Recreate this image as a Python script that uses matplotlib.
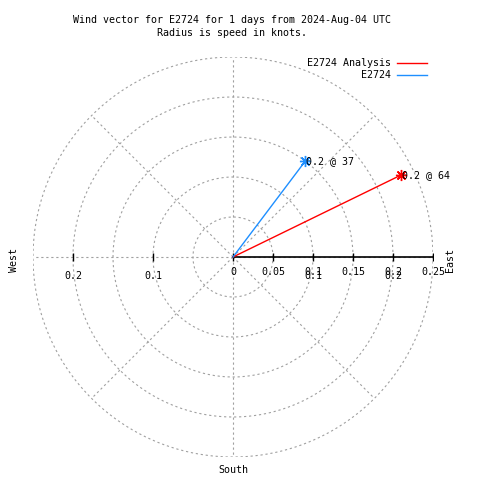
import matplotlib.pyplot as plt
import numpy as np

# data
series_names = ["E2724 Analysis", "E2724"]
series_colors = ["#ff0000", "#1e8fff"]
speeds = [0.234, 0.150]          # knots
directions = [64, 37]            # degrees from north
point_labels = ["0.2 @ 64", "0.2 @ 37"]
rings = [0.05, 0.10, 0.15, 0.20, 0.25]
right_ticks = [0, 0.05, 0.1, 0.15, 0.2, 0.25]
right_labels = ["0", "0.05", "0.1", "0.15", "0.2", "0.25"]
left_ticks = [-0.2, -0.1]
left_labels = ["0.2", "0.1"]
rmax = 0.25

font = "DejaVu Sans Mono"
fs = 7.2
grid_kw = dict(color="#a0a0a0", lw=0.8, ls=(0, (2, 2.5)))

fig = plt.figure(figsize=(4.8, 4.8), dpi=100)
ax = fig.add_axes([33 / 480, 23 / 480, 400 / 480, 400 / 480])
ax.set_xlim(-rmax, rmax)
ax.set_ylim(-rmax, rmax)
ax.set_aspect("equal")
ax.axis("off")

# polar grid
t = np.linspace(0, 2 * np.pi, 361)
for r in rings:
    ax.plot(r * np.cos(t), r * np.sin(t), **grid_kw)
for a in range(0, 360, 45):
    ang = np.radians(a)
    ax.plot([0, rmax * np.cos(ang)], [0, rmax * np.sin(ang)], **grid_kw)

# axis on the east side
ax.plot([0, rmax], [0, 0], color="black", lw=1.2)
ax.plot(right_ticks, [0] * len(right_ticks), ls="none", marker="|",
        ms=6, mew=1, color="black")
ax.plot(left_ticks, [0] * len(left_ticks), ls="none", marker="|",
        ms=6, mew=1, color="black")
for v, lab in zip(right_ticks, right_labels):
    ax.annotate(lab, (v, 0), xytext=(0, -15), textcoords="offset pixels",
                ha="center", va="center", fontsize=fs, family=font)
for v, lab in zip(left_ticks, left_labels):
    ax.annotate(lab, (v, 0), xytext=(0, -19), textcoords="offset pixels",
                ha="center", va="center", fontsize=fs, family=font)
# gnuplot draws the 0.1 / 0.2 ring labels again just below
for v, lab in zip([0.1, 0.2], ["0.1", "0.2"]):
    ax.annotate(lab, (v, 0), xytext=(0, -19), textcoords="offset pixels",
                ha="center", va="center", fontsize=fs, family=font)

# vectors
for s, d, c, lab in zip(speeds, directions, series_colors, point_labels):
    x = s * np.sin(np.radians(d))
    y = s * np.cos(np.radians(d))
    ax.plot([0, x], [0, y], color=c, lw=1)
    ax.plot([x], [y], ls="none", marker=(8, 2, 0), ms=8, mew=1, color=c)
    ax.annotate(lab, (x, y), xytext=(1, 0), textcoords="offset pixels",
                ha="left", va="center", fontsize=fs, family=font)

# compass labels
fig.text(14 / 480, 1 - 260 / 480, "West", rotation=90, ha="center",
         va="center", fontsize=fs, family=font)
fig.text(450 / 480, 1 - 260 / 480, "East", rotation=90, ha="center",
         va="center", fontsize=fs, family=font)
fig.text(233 / 480, 1 - 470 / 480, "South", ha="center", va="center",
         fontsize=fs, family=font)

# legend
for i, (name, c) in enumerate(zip(series_names, series_colors)):
    yy = 1 - (63 + 12 * i) / 480
    fig.text(391 / 480, yy, name, ha="right", va="center", fontsize=fs,
             family=font)
    fig.add_artist(plt.Line2D([397 / 480, 427 / 480], [yy, yy], color=c,
                              lw=1, transform=fig.transFigure))

# title
fig.text(232 / 480, 1 - 20 / 480,
         "Wind vector for E2724 for 1 days from 2024-Aug-04 UTC",
         ha="center", va="center", fontsize=fs, family=font)
fig.text(232 / 480, 1 - 33 / 480, "Radius is speed in knots.",
         ha="center", va="center", fontsize=fs, family=font)

fig.savefig("out.png", dpi=100)
